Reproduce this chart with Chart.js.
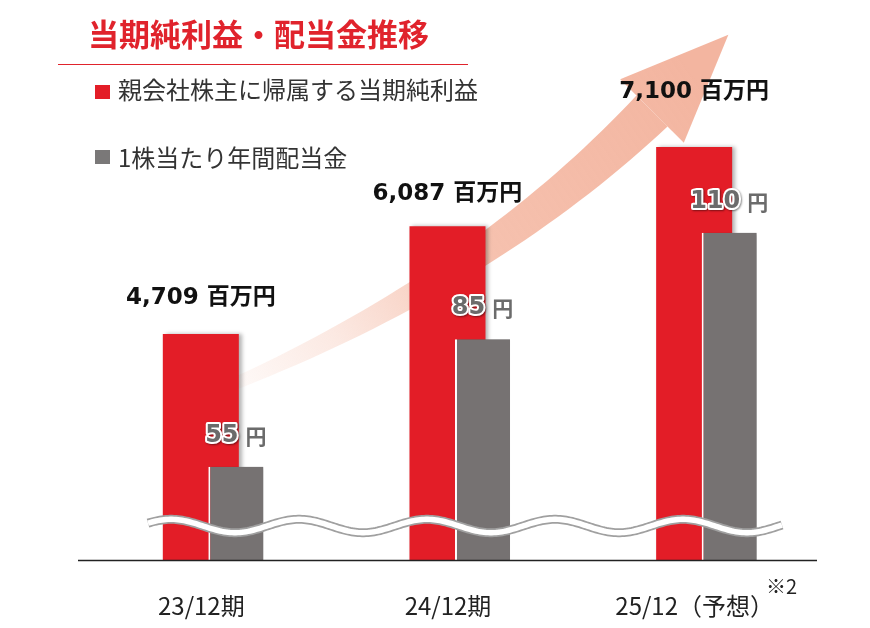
<!DOCTYPE html>
<html lang="ja">
<head>
<meta charset="utf-8">
<title>当期純利益・配当金推移</title>
<script src="https://cdn.jsdelivr.net/npm/chart.js@4.4.1/dist/chart.umd.min.js"></script>
<style>
  html, body { margin: 0; padding: 0; background: #fff; }
  #wrap { position: relative; width: 870px; height: 628px; overflow: hidden; font-family: 'Noto Sans CJK JP', sans-serif; }
  #chartBox { position: absolute; left: 0; top: 0; width: 870px; height: 628px; }
  .title { position: absolute; left: 88px; top: 17px; font-size: 31px; line-height: 31px; font-weight: 700; color: #e0232c; white-space: nowrap; }
  .rule { position: absolute; left: 58px; top: 64px; width: 410px; height: 1px; background: #e0232c; }
  .swatch { position: absolute; left: 95px; width: 15px; height: 14px; }
  .legend-text { position: absolute; left: 118px; font-size: 24px; line-height: 24px; color: #333; white-space: nowrap; }
  .note { position: absolute; left: 766px; top: 576px; font-size: 20px; line-height: 20px; color: #222; }
</style>
</head>
<body>
<div id="wrap">
  <div id="chartBox"><canvas id="chart"></canvas></div>
  <div class="title">当期純利益・配当金推移</div>
  <div class="rule"></div>
  <div class="swatch" id="sw0" style="top:85px"></div>
  <div class="legend-text" id="lg0" style="top:77px"></div>
  <div class="swatch" id="sw1" style="top:150px"></div>
  <div class="legend-text" id="lg1" style="top:145px"></div>
  <div class="note">※2</div>
</div>
<script>
// data
const categories = ['23/12期', '24/12期', '25/12（予想）'];
const netIncome = [4709, 6087, 7100];   // 百万円
const dividend = [55, 85, 110];         // 円
const incomeUnit = '百万円';
const dividendUnit = '円';
const seriesNames = ['親会社株主に帰属する当期純利益', '1株当たり年間配当金'];

const RED = '#e31d27';
const GRAY = '#767272';

// legend (html)
document.getElementById('sw0').style.background = RED;
document.getElementById('sw1').style.background = '#7a7878';
document.getElementById('lg0').textContent = seriesNames[0];
document.getElementById('lg1').textContent = seriesNames[1];

const redLift = [36, 32, 55];   // label distance above the red bars
const grayLift = 31;

const decor = {
  id: 'decor',
  beforeDatasetsDraw(chart) {
    // the big rising arrow behind the bars
    const ctx = chart.ctx;
    const p0 = {x: 200, y: 398}, p1 = {x: 475, y: 288}, p2 = {x: 652, y: 111};
    const pt = (t) => ({
      x: (1 - t) * (1 - t) * p0.x + 2 * t * (1 - t) * p1.x + t * t * p2.x,
      y: (1 - t) * (1 - t) * p0.y + 2 * t * (1 - t) * p1.y + t * t * p2.y
    });
    const tan = (t) => {
      const dx = 2 * (1 - t) * (p1.x - p0.x) + 2 * t * (p2.x - p1.x);
      const dy = 2 * (1 - t) * (p1.y - p0.y) + 2 * t * (p2.y - p1.y);
      const l = Math.hypot(dx, dy);
      return {x: dx / l, y: dy / l};
    };
    const upper = [], lower = [];
    for (let i = 0; i <= 40; i++) {
      const t = i / 40;
      const p = pt(t), d = tan(t), hw = 5 + 17 * t;
      upper.push({x: p.x + d.y * hw, y: p.y - d.x * hw});
      lower.push({x: p.x - d.y * hw, y: p.y + d.x * hw});
    }
    const d = tan(1);
    const grad = ctx.createLinearGradient(200, 400, 690, 70);
    grad.addColorStop(0, 'rgba(244,182,160,0)');
    grad.addColorStop(0.25, 'rgba(244,182,160,0.3)');
    grad.addColorStop(0.55, 'rgba(244,182,160,0.85)');
    grad.addColorStop(1, 'rgba(243,181,160,1)');
    ctx.save();
    ctx.fillStyle = grad;
    ctx.beginPath();
    upper.forEach((p, i) => i ? ctx.lineTo(p.x, p.y) : ctx.moveTo(p.x, p.y));
    for (let i = lower.length - 1; i >= 0; i--) ctx.lineTo(lower[i].x, lower[i].y);
    ctx.closePath();
    ctx.fill();
    ctx.beginPath();
    ctx.moveTo(p2.x + d.y * 45, p2.y - d.x * 45);
    ctx.lineTo(p2.x + d.x * 108, p2.y + d.y * 108);
    ctx.lineTo(p2.x - d.y * 45, p2.y + d.x * 45);
    ctx.closePath();
    ctx.fill();
    ctx.restore();
  },
  beforeDatasetDraw(chart, args) {
    if (args.index === 1) return false; // gray bars are drawn later, on top of the red ones
    const ctx = chart.ctx;
    ctx.save();
    ctx.shadowColor = 'rgba(0,0,0,0.3)';
    ctx.shadowBlur = 4;
    ctx.shadowOffsetX = 3;
  },
  afterDatasetDraw(chart, args) {
    if (args.index !== 1) chart.ctx.restore();
  },
  afterDatasetsDraw(chart) {
    const ctx = chart.ctx;
    const area = chart.chartArea;
    const grayMeta = chart.getDatasetMeta(1);
    ctx.save();
    ctx.beginPath();
    ctx.rect(area.left - 20, area.top, area.right - area.left + 40, area.bottom - area.top);
    ctx.clip();
    ctx.shadowColor = 'rgba(0,0,0,0.35)';
    ctx.shadowBlur = 4;
    ctx.shadowOffsetX = 3;
    grayMeta.controller.draw();
    ctx.restore();

    // axis break wave
    ctx.save();
    ctx.beginPath();
    for (let x = 148; x <= 782; x += 2) {
      const y = 526 - 6.7 * Math.cos(2 * Math.PI * (x - 427) / 128);
      x === 148 ? ctx.moveTo(x, y) : ctx.lineTo(x, y);
    }
    ctx.lineCap = 'butt';
    ctx.strokeStyle = '#a0a0a0';
    ctx.lineWidth = 9;
    ctx.stroke();
    ctx.strokeStyle = '#ffffff';
    ctx.lineWidth = 5.5;
    ctx.stroke();
    ctx.restore();

    // base line
    ctx.save();
    ctx.strokeStyle = '#222';
    ctx.lineWidth = 1.4;
    ctx.beginPath();
    ctx.moveTo(78, area.bottom + 0.5);
    ctx.lineTo(817, area.bottom + 0.5);
    ctx.stroke();
    ctx.restore();

    // value labels
    const redMeta = chart.getDatasetMeta(0);
    ctx.save();
    ctx.textBaseline = 'middle';
    redMeta.data.forEach((bar, i) => {
      ctx.font = "bold 23px 'DejaVu Sans', 'Noto Sans CJK JP'";
      ctx.fillStyle = '#111';
      ctx.textAlign = 'center';
      ctx.fillText(netIncome[i].toLocaleString('en-US') + ' ' + incomeUnit, bar.x, bar.y - redLift[i]);
    });
    grayMeta.data.forEach((bar, i) => {
      const num = String(dividend[i]);
      const numFont = "bold 24px 'DejaVu Sans'";
      const unitFont = "bold 21px 'Noto Sans CJK JP'";
      ctx.font = numFont;
      const wNum = ctx.measureText(num).width;
      ctx.font = unitFont;
      const wUnit = ctx.measureText(dividendUnit).width;
      const gap = 7;
      const x0 = bar.x - (wNum + gap + wUnit) / 2;
      const y = bar.y - grayLift;
      ctx.textAlign = 'left';
      ctx.font = numFont;
      ctx.lineJoin = 'round';
      ctx.save();
      ctx.shadowColor = 'rgba(0,0,0,0.45)';
      ctx.shadowBlur = 2;
      ctx.shadowOffsetX = 1;
      ctx.shadowOffsetY = 1;
      ctx.strokeStyle = '#ffffff';
      ctx.lineWidth = 4;
      ctx.strokeText(num, x0, y);
      ctx.restore();
      ctx.fillStyle = '#6b6b6b';
      ctx.fillText(num, x0, y);
      ctx.font = unitFont;
      ctx.fillText(dividendUnit, x0 + wNum + gap, y);
    });
    ctx.restore();
  }
};

new Chart(document.getElementById('chart'), {
  type: 'bar',
  data: {
    labels: categories,
    datasets: [
      {
        label: seriesNames[0],
        data: netIncome,
        yAxisID: 'yIncome',
        backgroundColor: RED,
        borderWidth: 0,
        categoryPercentage: 0.284,
        barPercentage: 2.17
      },
      {
        label: seriesNames[1],
        data: dividend,
        yAxisID: 'yDividend',
        backgroundColor: GRAY,
        borderColor: '#ffffff',
        borderWidth: {left: 2, top: 0, right: 0, bottom: 0},
        categoryPercentage: 0.284,
        barPercentage: 1.571
      }
    ]
  },
  options: {
    responsive: true,
    maintainAspectRatio: false,
    animation: false,
    layout: { padding: { top: 40, left: 95, right: 35, bottom: 0 } },
    plugins: {
      legend: { display: false },
      tooltip: { enabled: false }
    },
    scales: {
      x: {
        grid: { display: false, drawTicks: false },
        border: { display: false },
        ticks: {
          color: '#222',
          font: { family: "'Noto Sans CJK JP'", size: 24 },
          padding: 31,
          labelOffset: -17,
          autoSkip: false,
          maxRotation: 0
        },
        afterFit(scale) { scale.height = 68; }
      },
      yIncome: { display: false, min: 1820, max: 8469 },
      yDividend: { display: false, min: 33.1, max: 155.3 }
    }
  },
  plugins: [decor]
});
</script>
</body>
</html>
